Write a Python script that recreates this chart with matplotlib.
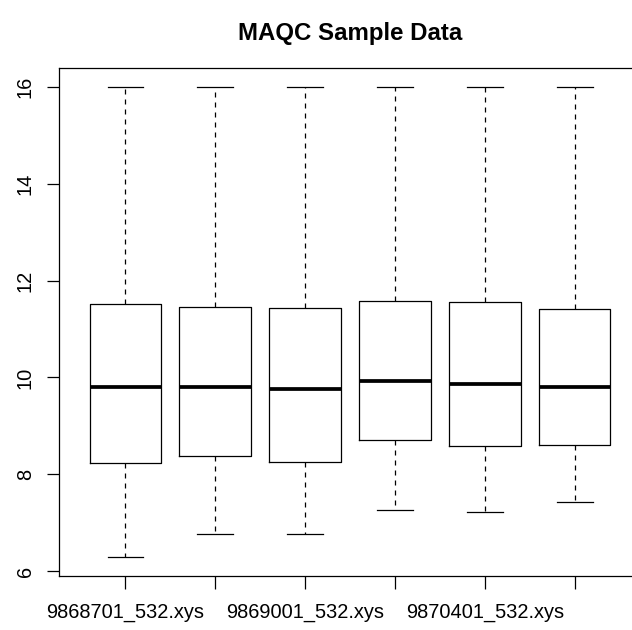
import matplotlib
matplotlib.use('Agg')
import matplotlib.pyplot as plt

plt.rcParams['font.family'] = ['Liberation Sans', 'DejaVu Sans']

# only every other label fits under the axis, the rest are left blank
sample_labels = ['9868701_532.xys', '', '9869001_532.xys', '', '9870401_532.xys', '']
whisker_low = [6.29, 6.77, 6.76, 7.26, 7.23, 7.43]
q1 = [8.23, 8.38, 8.26, 8.71, 8.59, 8.61]
median = [9.80, 9.81, 9.76, 9.93, 9.87, 9.80]
q3 = [11.52, 11.46, 11.44, 11.58, 11.56, 11.42]
whisker_high = [16.0, 16.0, 16.0, 16.0, 16.0, 16.0]


def build_stats():
    stats = []
    for i in range(len(median)):
        stats.append({
            'whislo': whisker_low[i], 'q1': q1[i], 'med': median[i],
            'q3': q3[i], 'whishi': whisker_high[i], 'fliers': [],
        })
    return stats


def plot_boxes(stats):
    fig = plt.figure(figsize=(632 / 120, 630 / 120), dpi=120)
    # plot region runs past the right edge of the picture, like the original
    ax = fig.add_axes([59 / 632, 54 / 630, 582 / 632, 508 / 630])

    n = len(stats)
    ax.bxp(stats, positions=range(1, n + 1), widths=0.8, capwidths=0.4,
           showfliers=False,
           boxprops=dict(color='black', linewidth=0.75),
           whiskerprops=dict(color='black', linewidth=0.75, linestyle=(0, (4, 4))),
           capprops=dict(color='black', linewidth=0.75),
           medianprops=dict(color='black', linewidth=2.25, solid_capstyle='butt'))

    lo, hi = min(whisker_low), max(whisker_high)
    ext = (hi - lo) * 0.04
    ax.set_ylim(lo - ext, hi + ext)
    ax.set_xlim(0.5 - 0.24, n + 0.5 + 0.24)

    ax.set_xticks(range(1, n + 1))
    ax.set_xticklabels(sample_labels)
    ax.set_yticks([6, 8, 10, 12, 14, 16])
    for lbl in ax.get_yticklabels():
        lbl.set_rotation(90)
        lbl.set_va('center')

    ax.tick_params(axis='both', direction='out', length=7.5, width=0.75,
                   labelsize=12, color='black')
    ax.tick_params(axis='x', pad=9)
    ax.tick_params(axis='y', pad=7)
    for sp in ax.spines.values():
        sp.set_linewidth(0.75)
        sp.set_color('black')

    ax.set_title('MAQC Sample Data', fontsize=14.4, fontweight='bold', pad=17)

    fig.savefig('out.png', dpi=120)


if __name__ == '__main__':
    plot_boxes(build_stats())
